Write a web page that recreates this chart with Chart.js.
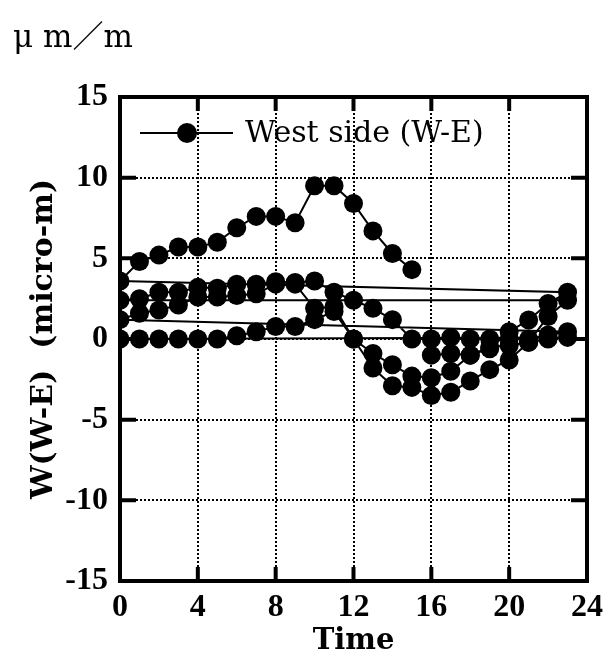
<!DOCTYPE html>
<html>
<head>
<meta charset="utf-8">
<script src="https://cdn.jsdelivr.net/npm/chart.js@4.4.1/dist/chart.umd.min.js"></script>
<style>
  html, body { margin: 0; padding: 0; background: #fff; }
  #wrap { width: 612px; height: 663px; }
</style>
</head>
<body>
<div id="wrap"><canvas id="chart" width="612" height="663"></canvas></div>
<script>
// hourly readings, each "day" runs from 16:00 to 15:00 next morning
const hourOrder = [16, 17, 18, 19, 20, 21, 22, 23, 0, 1, 2, 3, 4, 5, 6, 7, 8, 9, 10, 11, 12, 13, 14, 15];

const day1 = [-1.0, -0.9, -1.0, -0.5, -0.4, -0.2, 0.0, 0.1,
  0.0, 0.0, 0.0, 0.0, 0.0, 0.0, 0.2, 0.45, 0.77, 0.77, 1.2, 1.7, 0.0, -1.8, -2.9, -3.0];
const day2 = [-3.5, -3.3, -2.6, -1.9, -1.3, -0.2, 1.4, 2.4,
  2.4, 2.5, 2.9, 2.9, 3.2, 3.15, 3.4, 3.4, 3.55, 3.5, 3.6, 2.9, 2.4, 1.9, 1.2, 0.0];
const day3 = [0.0, 0.1, 0.0, 0.0, 0.0, 0.0, 0.25, 0.45,
  1.2, 1.6, 1.8, 2.1, 2.6, 2.6, 2.7, 2.8, 3.4, 3.4, 1.9, 2.0, 0.0, -0.9, -1.6, -2.3];
const day4 = [-2.4, -2.0, -1.0, -0.6, 0.45, 1.18, 2.2, 2.9,
  3.6, 4.8, 5.2, 5.7, 5.7, 6.0, 6.9, 7.6, 7.6, 7.2, 9.5, 9.5, 8.4, 6.7, 5.3, 4.3];

const xTicks = [0, 4, 8, 12, 16, 20, 24];
const yTicks = [-15, -10, -5, 0, 5, 10, 15];

const seriesLabel = 'West side (W-E)';
const unitText = 'μ m／m';

const points = [];
[day1, day2, day3, day4].forEach(day => {
  day.forEach((v, i) => points.push({ x: hourOrder[i], y: v }));
});

// frame, inward ticks, legend and unit text
const decor = {
  id: 'decor',
  afterDatasetsDraw(chart) {
    const { ctx, chartArea: a, scales: { x, y } } = chart;
    ctx.save();
    ctx.strokeStyle = '#000';
    ctx.lineWidth = 4;
    ctx.strokeRect(a.left, a.top, a.right - a.left, a.bottom - a.top);

    ctx.beginPath();
    xTicks.slice(1, -1).forEach(t => {
      const px = x.getPixelForValue(t);
      ctx.moveTo(px, a.top); ctx.lineTo(px, a.top + 14);
      ctx.moveTo(px, a.bottom); ctx.lineTo(px, a.bottom - 14);
    });
    yTicks.slice(1, -1).forEach(t => {
      const py = y.getPixelForValue(t);
      ctx.moveTo(a.left, py); ctx.lineTo(a.left + 16, py);
      ctx.moveTo(a.right, py); ctx.lineTo(a.right - 16, py);
    });
    ctx.stroke();

    // legend
    const ly = a.top + 36;
    ctx.lineWidth = 2;
    ctx.beginPath();
    ctx.moveTo(a.left + 20, ly); ctx.lineTo(a.left + 113, ly);
    ctx.stroke();
    ctx.fillStyle = '#000';
    ctx.beginPath();
    ctx.arc(a.left + 67, ly, 10, 0, Math.PI * 2);
    ctx.fill();
    ctx.font = '30px "DejaVu Serif"';
    ctx.textBaseline = 'middle';
    ctx.textAlign = 'left';
    ctx.fillText(seriesLabel, a.left + 125, ly + 1);

    ctx.font = '31px "DejaVu Serif", "Noto Sans CJK JP"';
    ctx.textBaseline = 'alphabetic';
    ctx.fillText(unitText, 13, 47);
    ctx.restore();
  }
};

new Chart(document.getElementById('chart'), {
  type: 'scatter',
  data: {
    datasets: [{
      label: seriesLabel,
      data: points,
      showLine: true,
      borderColor: '#000',
      borderWidth: 2,
      backgroundColor: '#000',
      pointRadius: 9.5,
      pointHoverRadius: 9.5,
      pointBorderWidth: 0
    }]
  },
  options: {
    responsive: false,
    animation: false,
    layout: { padding: { top: 97, right: 25, left: 0, bottom: 0 } },
    plugins: { legend: { display: false }, tooltip: { enabled: false } },
    scales: {
      x: {
        min: 0, max: 24,
        afterBuildTicks: s => { s.ticks = xTicks.map(v => ({ value: v })); },
        afterFit: s => { s.height = 82; },
        grid: { color: '#000', lineWidth: 2, drawTicks: false },
        border: { display: false, dash: [2, 2] },
        ticks: { color: '#000', padding: 8, font: { family: 'Liberation Serif', weight: 'bold', size: 32 } },
        title: { display: true, text: 'Time', color: '#000', padding: { top: 0 }, font: { family: 'DejaVu Serif', weight: 'bold', size: 29 } }
      },
      y: {
        min: -15, max: 15,
        afterBuildTicks: s => { s.ticks = yTicks.map(v => ({ value: v })); },
        afterFit: s => { s.width = 120; },
        grid: { color: '#000', lineWidth: 2, drawTicks: false },
        border: { display: false, dash: [2, 2] },
        ticks: { color: '#000', padding: 12, font: { family: 'Liberation Serif', weight: 'bold', size: 32 } },
        title: { display: true, text: 'W(W-E)  (micro-m)', color: '#000', padding: { top: 26, bottom: 0 }, font: { family: 'DejaVu Serif', weight: 'bold', size: 30 } }
      }
    }
  },
  plugins: [decor]
});
</script>
</body>
</html>
